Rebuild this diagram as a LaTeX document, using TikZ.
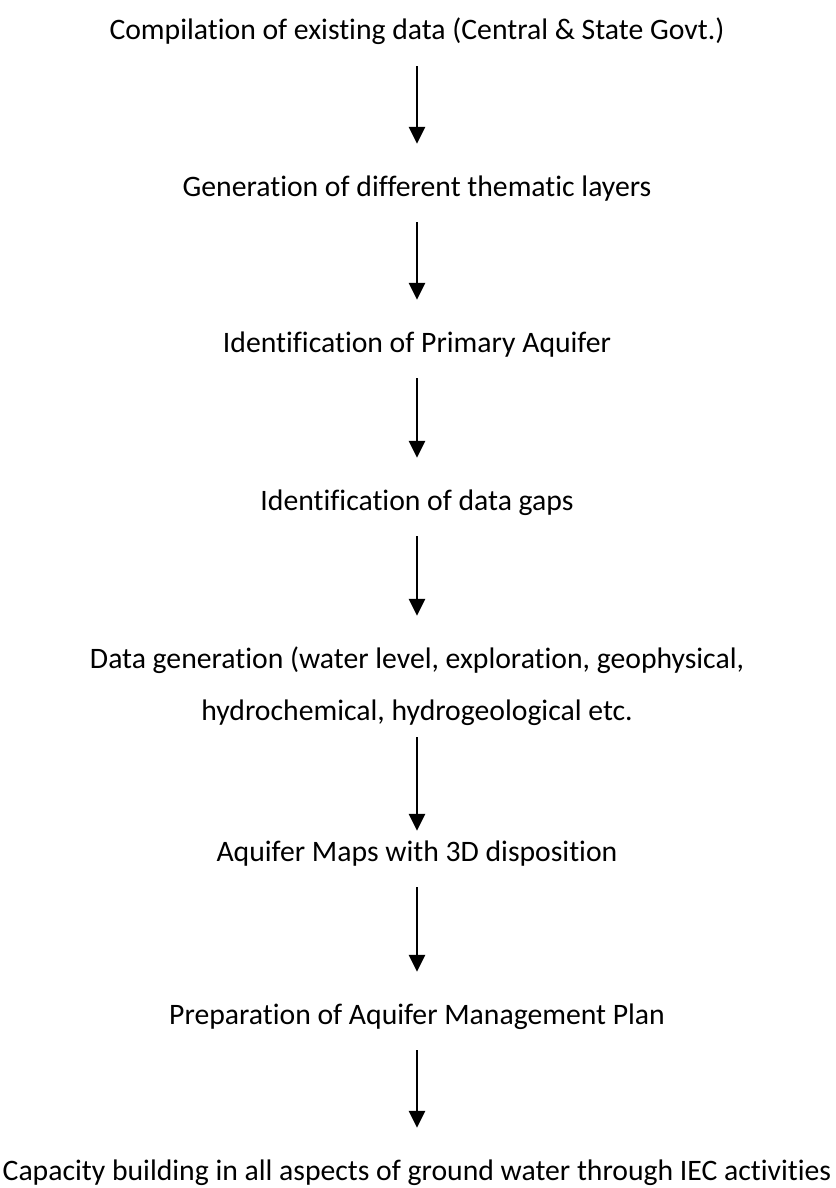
\documentclass[tikz,border=0pt]{standalone}
\usepackage{fontspec}
\setmainfont{Carlito}[Ligatures=NoCommon]
\usetikzlibrary{arrows.meta}
\tikzstyle{stage}=[font=\fontsize{29.7}{52}\selectfont, align=center, anchor=base, inner xsep=0pt, inner ysep=0pt]
\tikzstyle{flow} = [draw, line width=2.6pt, -{Triangle[width=16pt,length=17pt]}]

\begin{document}
\begin{tikzpicture}[x=1pt, y=-1pt]
    \useasboundingbox (0,0) rectangle (835,1188);
    \foreach \pos/\name/\hgt/\dep/\txt in {
                            {(417,40)/t1/52/26/Compilation of existing data (Central \& State Govt.)},
                            {(417,196)/t2/52/26/Generation of different thematic layers},
                            {(417,352)/t3/52/26/Identification of Primary Aquifer},
                            {(417,510)/t4/52/26/Identification of data gaps},
                            {(417,720)/t5/104/17/Data generation (water level, exploration, geophysical,\\ hydrochemical, hydrogeological etc.},
                            {(417,861)/t6/30/26/Aquifer Maps with 3D disposition},
                            {(417,1024)/t7/52/26/Preparation of Aquifer Management Plan},
                            {(417,1180)/t8/52/26/Capacity building in all aspects of ground water through IEC activities}}
        \node[stage, text height=\hgt pt, text depth=\dep pt] (\name) at \pos {\txt};

    % Connect the stages top to bottom
    \foreach \source/ \dest in {t1/t2, t2/t3, t3/t4, t4/t5, t5/t6, t6/t7, t7/t8}
        \path[flow] (\source) -- (\dest);

\end{tikzpicture}
\end{document}
